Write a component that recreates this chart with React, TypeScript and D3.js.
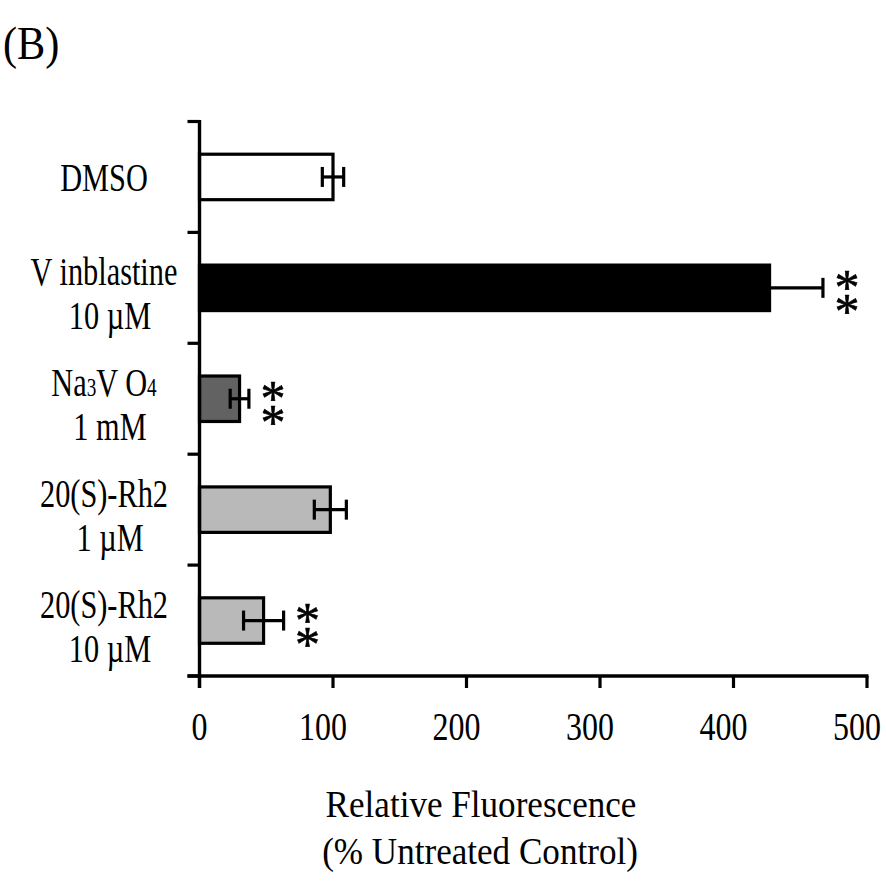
import React from "react";
import * as d3 from "d3";

// Treatment groups, top to bottom
const categories = ["DMSO", "Vinblastine 10 µM", "Na3VO4 1 mM", "20(S)-Rh2 1 µM", "20(S)-Rh2 10 µM"];
// Axis label lines for each group ("_" marks a subscript digit)
const labelLines: string[][] = [
  ["DMSO"],
  ["V inblastine", "10 µM"],
  ["Na_3V O_4", "1 mM"],
  ["20(S)-Rh2", "1 µM"],
  ["20(S)-Rh2", "10 µM"],
];
// Relative fluorescence (% untreated control) and error
const means = [100, 427, 30, 98, 48];
const errors = [8, 40, 7, 12, 15];
const significance = ["", "**", "**", "", "**"];
const xTicks = [0, 100, 200, 300, 400, 500];

const barFills = ["#ffffff", "#000000", "#626262", "#b9b9b9", "#b9b9b9"];

const W = 886;
const H = 883;
const FONT = "'Liberation Serif', 'Times New Roman', serif";

function renderLine(line: string) {
  const parts = line.split(/(_\d)/).filter((p) => p.length > 0);
  return parts.map((p, i) =>
    p.startsWith("_") ? (
      <tspan key={i} fontSize={26}>
        {p.slice(1)}
      </tspan>
    ) : (
      <tspan key={i}>{p}</tspan>
    )
  );
}

export default function App() {
  const x = d3.scaleLinear().domain([0, 500]).range([199.5, 867]);
  const y = d3
    .scaleBand<string>()
    .domain(categories)
    .range([121.5, 676])
    .paddingInner(0.59)
    .paddingOuter(0.295);
  const step = y.step();
  const bw = y.bandwidth();
  const bandTop = (c: string) => (y(c) as number) - (step - bw) / 2;
  const boundaries = [...categories.map(bandTop), 676];
  const axisY = 676;
  const axisX = x(0);

  const labelScale = 0.74;
  const labelSize = 41;

  return (
    <svg
      width={W}
      height={H}
      style={{ position: "absolute", left: 0, top: 0, background: "#fff" }}
      fontFamily={FONT}
    >
      <rect width={W} height={H} fill="#fff" />
      <text transform="translate(3,59) scale(0.9,1)" fontSize={47}>
        (B)
      </text>

      {/* bars */}
      {categories.map((c, i) => (
        <rect
          key={c}
          x={x(0)}
          y={y(c)}
          width={x(means[i]) - x(0)}
          height={bw}
          fill={barFills[i]}
          stroke="#000"
          strokeWidth={3.2}
        />
      ))}

      {/* error bars */}
      {categories.map((c, i) => {
        const cy = (y(c) as number) + bw / 2;
        const lo = x(means[i] - errors[i]);
        const hi = x(means[i] + errors[i]);
        return (
          <g key={c} stroke="#000" strokeWidth={3.2}>
            <line x1={lo} x2={hi} y1={cy} y2={cy} />
            <line x1={lo} x2={lo} y1={cy - 10} y2={cy + 10} />
            <line x1={hi} x2={hi} y1={cy - 10} y2={cy + 10} />
          </g>
        );
      })}

      {/* significance marks, stacked one above the other */}
      {categories.map((c, i) => {
        if (!significance[i]) return null;
        const cy = (y(c) as number) + bw / 2;
        const sx = x(means[i] + errors[i]) + 24;
        return (
          <text key={c} fontSize={50} textAnchor="middle" stroke="#000" strokeWidth={0.6}>
            {significance[i].split("").map((s, k) => (
              <tspan key={k} x={sx} y={cy - 11 + k * 24 + 27}>
                {s}
              </tspan>
            ))}
          </text>
        );
      })}

      {/* y axis */}
      <line x1={axisX} x2={axisX} y1={boundaries[0] - 1.5} y2={axisY + 12} stroke="#000" strokeWidth={3.4} />
      {boundaries.map((b, i) => (
        <line key={i} x1={axisX - 12} x2={axisX} y1={b} y2={b} stroke="#000" strokeWidth={3.2} />
      ))}

      {/* x axis */}
      <line x1={axisX - 12} x2={x(500) + 1.5} y1={axisY} y2={axisY} stroke="#000" strokeWidth={3.4} />
      {xTicks.map((t) => (
        <g key={t}>
          <line x1={x(t)} x2={x(t)} y1={axisY} y2={axisY + 12} stroke="#000" strokeWidth={3.2} />
          <text
            transform={`translate(${t === 0 ? x(t) : x(t) + 14},${740}) scale(0.82,1)`}
            textAnchor={t === 0 ? "middle" : "end"}
            fontSize={39}
          >
            {t}
          </text>
        </g>
      ))}

      {/* category labels */}
      {categories.map((c, i) => {
        const cy = (y(c) as number) + bw / 2;
        const lines = labelLines[i];
        if (lines.length === 1) {
          return (
            <text key={c} transform={`translate(104,${cy + 14}) scale(${labelScale},1)`} textAnchor="middle" fontSize={labelSize}>
              {renderLine(lines[0])}
            </text>
          );
        }
        return (
          <g key={c}>
            <text transform={`translate(104,${cy - 3}) scale(${labelScale},1)`} textAnchor="middle" fontSize={labelSize}>
              {renderLine(lines[0])}
            </text>
            <text transform={`translate(110,${cy + 41}) scale(${labelScale},1)`} textAnchor="middle" fontSize={labelSize}>
              {renderLine(lines[1])}
            </text>
          </g>
        );
      })}

      {/* x axis title */}
      <text transform="translate(481,817) scale(0.9,1)" textAnchor="middle" fontSize={39}>
        Relative Fluorescence
      </text>
      <text transform="translate(480,864) scale(0.9,1)" textAnchor="middle" fontSize={39}>
        (% Untreated Control)
      </text>
    </svg>
  );
}
